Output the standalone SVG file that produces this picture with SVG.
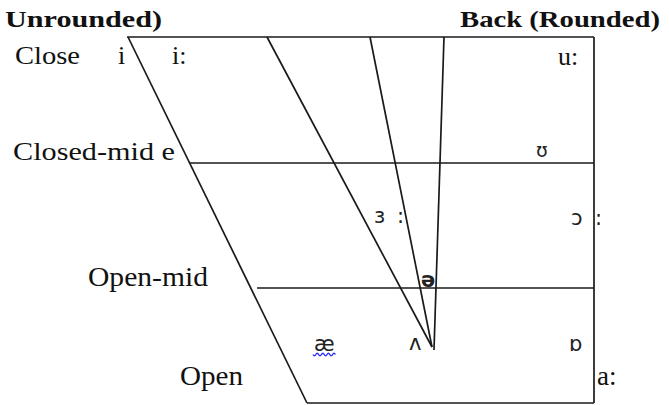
<svg xmlns="http://www.w3.org/2000/svg" width="669" height="405" viewBox="0 0 669 405">
<style>
.ln{stroke:#1a1a1a;stroke-width:1.7;fill:none;stroke-linecap:butt}
.lbl{font-family:"Liberation Serif","Times New Roman",serif;font-size:26px;fill:#111}
.hd{font-family:"Liberation Serif","Times New Roman",serif;font-size:24px;font-weight:bold;fill:#111}
.ipa{font-family:"DejaVu Sans","Liberation Sans",sans-serif;font-size:21px;fill:#222}
</style>
<rect width="669" height="405" fill="#fff"/>
<g id="connectors">
<line class="ln" x1="127" y1="37" x2="594" y2="37"/>
<line class="ln" x1="594" y1="37" x2="594" y2="403"/>
<line class="ln" x1="307" y1="403" x2="594" y2="403"/>
<line class="ln" x1="128" y1="37" x2="307" y2="403"/>
<line class="ln" x1="190" y1="163" x2="594" y2="163"/>
<line class="ln" x1="257" y1="288" x2="594" y2="288"/>
<line class="ln" x1="267" y1="37" x2="432" y2="347"/>
<line class="ln" x1="370" y1="37" x2="432" y2="347"/>
<line class="ln" x1="444" y1="37" x2="434" y2="350"/>
</g>
<g id="headers">
<text class="hd" x="5" y="27" textLength="157" lengthAdjust="spacingAndGlyphs">Unrounded)</text>
<text class="hd" x="460" y="27" textLength="200" lengthAdjust="spacingAndGlyphs">Back (Rounded)</text>
</g>
<g id="row-labels">
<text class="lbl" x="15" y="64" textLength="65" lengthAdjust="spacingAndGlyphs">Close</text>
<text class="lbl" x="13" y="160" textLength="162" lengthAdjust="spacingAndGlyphs">Closed-mid e</text>
<text class="lbl" x="88" y="286" textLength="120" lengthAdjust="spacingAndGlyphs" style="font-size:27px">Open-mid</text>
<text class="lbl" x="180" y="385" textLength="63" lengthAdjust="spacingAndGlyphs" style="font-size:27px">Open</text>
</g>
<g id="vowels">
<text class="lbl" x="118" y="64">i</text>
<text class="lbl" x="172" y="64">i:</text>
<text class="lbl" x="558" y="65">u:</text>
<text class="ipa" x="536" y="157" style="font-size:19px">ʊ</text>
<text class="ipa" x="374" y="223">ɜ</text>
<text class="ipa" x="397" y="223">:</text>
<text class="ipa" x="571" y="225">ɔ</text>
<text class="ipa" x="595" y="225">:</text>
<text class="ipa" x="421" y="287" style="font-weight:bold">ə</text>
<text class="ipa" x="314" y="351">æ</text>
<path d="M313 354.5 q1.4 2.5 2.8 0 t2.8 0 t2.8 0 t2.8 0 t2.8 0 t2.8 0 t2.8 0 t2.8 0" stroke="#2b2bff" stroke-width="1.4" fill="none"/>
<text class="ipa" x="409" y="350">ʌ</text>
<text class="ipa" x="569" y="351">ɒ</text>
<text class="lbl" x="597" y="385" style="font-size:27px">a:</text>
</g>
</svg>
